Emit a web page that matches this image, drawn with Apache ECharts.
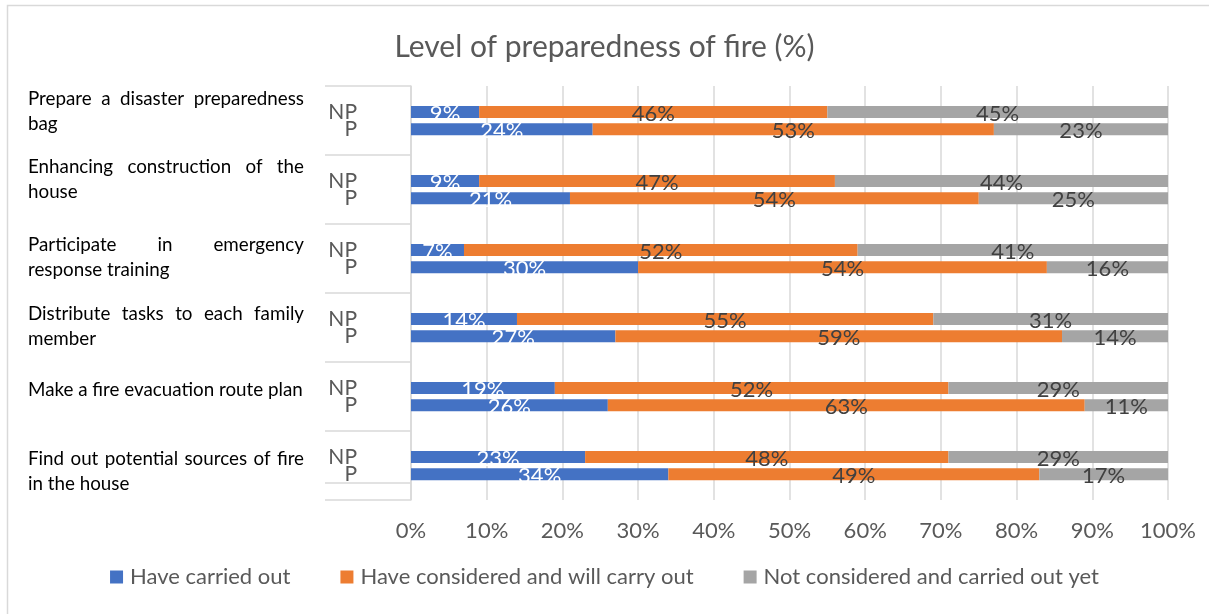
<!DOCTYPE html>
<html>
<head>
<meta charset="utf-8">
<title>Level of preparedness of fire (%)</title>
<script src="https://cdn.jsdelivr.net/npm/echarts@6/dist/echarts.min.js"></script>
<style>
  html, body { margin: 0; padding: 0; background: #fff; }
  #chart { width: 1209px; height: 614px; }
</style>
</head>
<body>
<div id="chart"></div>
<script>
// Activities (group labels), written as the lines they wrap into
const groupLines = [
  ['Prepare a disaster preparedness', 'bag'],
  ['Enhancing construction of the', 'house'],
  ['Participate in emergency', 'response training'],
  ['Distribute tasks to each family', 'member'],
  ['Make a fire evacuation route plan'],
  ['Find out potential sources of fire', 'in the house']
];
const subLabels = ['NP', 'P'];
const seriesNames = ['Have carried out', 'Have considered and will carry out', 'Not considered and carried out yet'];

// Percentages per activity (same order as groupLines)
const carriedNP    = [9, 9, 7, 14, 19, 23];
const carriedP     = [24, 21, 30, 27, 26, 34];
const consideredNP = [46, 47, 52, 55, 52, 48];
const consideredP  = [53, 54, 54, 59, 63, 49];
const notYetNP     = [45, 44, 41, 31, 29, 29];
const notYetP      = [23, 25, 16, 14, 11, 17];

const FONT = 'Lato, "Open Sans", sans-serif';
const colors = ['#4472C4', '#ED7D31', '#A5A5A5'];
const labelColors = ['#ffffff', '#404040', '#404040'];

// Each activity occupies four category slots: spacer, NP, P, spacer
const categories = [];
const slotLabel = [];
groupLines.forEach(function (lines, g) {
  ['pad-a', subLabels[0], subLabels[1], 'pad-b'].forEach(function (s) {
    categories.push('g' + g + '-' + s);
    slotLabel.push(subLabels.indexOf(s) >= 0 ? s : '');
  });
});

function slotData(npArr, pArr) {
  const out = [];
  npArr.forEach(function (v, g) {
    out.push(null, npArr[g], pArr[g], null);
  });
  return out;
}

const seriesData = [
  slotData(carriedNP, carriedP),
  slotData(consideredNP, consideredP),
  slotData(notYetNP, notYetP)
];

const chart = echarts.init(document.getElementById('chart'), null, { renderer: 'canvas' });

const option = {
  backgroundColor: '#ffffff',
  animation: false,
  textStyle: { fontFamily: FONT },
  title: {
    text: 'Level of preparedness of fire (%)',
    left: 'center',
    top: 27,
    textStyle: { fontFamily: FONT, fontSize: 30, fontWeight: 'normal', color: '#595959' }
  },
  legend: {
    bottom: 21,
    left: 'center',
    icon: 'rect',
    itemWidth: 13,
    itemHeight: 13,
    itemGap: 50,
    textStyle: { fontFamily: FONT, fontSize: 22, color: '#595959', padding: [0, 0, 0, 2] },
    data: seriesNames
  },
  grid: { left: 411, right: 41, top: 86, bottom: 114, containLabel: false },
  xAxis: {
    type: 'value',
    min: 0,
    max: 100,
    interval: 10,
    axisLine: { show: false },
    axisTick: { show: false },
    axisLabel: { formatter: '{value}%', fontFamily: FONT, fontSize: 22, color: '#595959', margin: 20 },
    splitLine: { show: true, lineStyle: { color: '#d9d9d9', width: 1.5 } }
  },
  yAxis: {
    type: 'category',
    inverse: true,
    data: categories,
    axisLine: { show: true, lineStyle: { color: '#d9d9d9', width: 1.5 } },
    axisTick: { show: true, interval: 3, length: 86, lineStyle: { color: '#d9d9d9', width: 1.5 } },
    axisLabel: {
      interval: 0,
      margin: 54,
      align: 'right',
      fontFamily: FONT,
      fontSize: 21,
      color: '#595959',
      formatter: function (v, i) { return slotLabel[i]; }
    }
  },
  series: seriesNames.map(function (name, k) {
    return {
      name: name,
      type: 'bar',
      stack: 'total',
      barWidth: 12,
      itemStyle: { color: colors[k] },
      label: {
        show: true,
        position: 'inside',
        offset: [0, 2],
        fontFamily: FONT,
        fontSize: 22,
        color: labelColors[k],
        formatter: function (p) { return p.value + '%'; }
      },
      data: seriesData[k]
    };
  })
};

chart.setOption(option);

// Group labels on the left, justified between two fixed edges like a text box
const TEXT_LEFT = 28, TEXT_RIGHT = 304, LINE_H = 25;
const GROUP_FONT = '18.8px ' + FONT;
const lineShift = [-9, -10, -1, -1, -7, 6];
const measureCtx = document.createElement('canvas').getContext('2d');
measureCtx.font = GROUP_FONT;

const graphics = [{
  type: 'rect',
  silent: true,
  shape: { x: 7.5, y: 5.5, width: 1400, height: 800 },
  style: { fill: 'none', stroke: '#d9d9d9', lineWidth: 1.5 }
}];

groupLines.forEach(function (lines, g) {
  const yNP = chart.convertToPixel({ yAxisIndex: 0 }, 'g' + g + '-' + subLabels[0]);
  const yP = chart.convertToPixel({ yAxisIndex: 0 }, 'g' + g + '-' + subLabels[1]);
  const center = (yNP + yP) / 2 + lineShift[g];
  const firstY = center - (lines.length - 1) * LINE_H / 2;
  lines.forEach(function (line, li) {
    const y = firstY + li * LINE_H;
    const words = line.split(' ');
    const justify = li < lines.length - 1 && words.length > 1;
    if (!justify) {
      graphics.push({
        type: 'text', silent: true,
        style: { text: line, x: TEXT_LEFT, y: y, font: GROUP_FONT, fill: '#000000', align: 'left', verticalAlign: 'middle' }
      });
      return;
    }
    const widths = words.map(function (w) { return measureCtx.measureText(w).width; });
    const total = widths.reduce(function (a, b) { return a + b; }, 0);
    const gap = (TEXT_RIGHT - TEXT_LEFT - total) / (words.length - 1);
    let x = TEXT_LEFT;
    words.forEach(function (w, wi) {
      graphics.push({
        type: 'text', silent: true,
        style: { text: w, x: x, y: y, font: GROUP_FONT, fill: '#000000', align: 'left', verticalAlign: 'middle' }
      });
      x += widths[wi] + gap;
    });
  });
});

chart.setOption({ graphic: graphics });
</script>
</body>
</html>
